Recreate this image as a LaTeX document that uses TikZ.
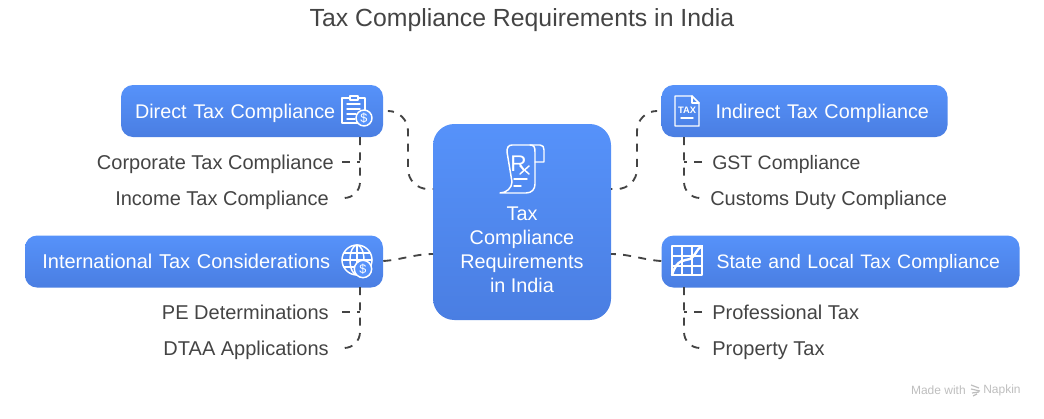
\documentclass[tikz,border=0pt]{standalone}
\usepackage{fontspec}
\setmainfont{Liberation Sans}
\usetikzlibrary{positioning}
\definecolor{boxtop}{RGB}{86, 146, 250}
\definecolor{boxbottom}{RGB}{74, 126, 226}
\definecolor{inktext}{RGB}{68, 68, 68}
\definecolor{linkgrey}{RGB}{68, 68, 68}
\definecolor{footgrey}{RGB}{190, 190, 190}

\begin{document}
\begin{tikzpicture}[x=0.75pt, y=-0.75pt,
    block/.style={rectangle, rounded corners=9pt, top color=boxtop, bottom color=boxbottom, draw=none, minimum height=39pt, inner xsep=0pt, inner ysep=0pt, text height=11.5pt, text depth=1pt, align=left, text=white, font=\fontsize{14.85}{18}\selectfont},
    hub/.style={rectangle, rounded corners=16pt, top color=boxtop, bottom color=boxbottom, draw=none, minimum width=133.5pt, minimum height=147pt, inner sep=0pt},
    hubtext/.style={align=center, text=white, font=\fontsize{14.85}{18}\selectfont, inner sep=0pt},
    leafleft/.style={anchor=east, inner xsep=9.75pt, text height=11.5pt, text depth=1pt, text=inktext, font=\fontsize{15}{18}\selectfont},
    leafright/.style={anchor=west, inner xsep=7.5pt, text height=11.5pt, text depth=1pt, text=inktext, font=\fontsize{15}{18}\selectfont},
    link/.style={draw=linkgrey, line width=1.4pt, dash pattern=on 6pt off 5.5pt},
    trunk/.style={link, rounded corners=12pt},
    icon/.style={draw=white, line width=1.1pt, line join=round, line cap=round},
    coin/.style={draw=white, fill=boxtop, line width=1.1pt}
]

\useasboundingbox (0,0) rectangle (1044,418);

\node (title) [text=inktext, font=\fontsize{18.6}{22}\selectfont] at (522,20) {Tax Compliance Requirements in India};

\node (hub) [hub] at (522,222) {};
\node (direct) [block, text width=196.5pt] at (252,111) {\hspace*{10.5pt}Direct Tax Compliance};
\node (indirect) [block, text width=214.5pt, right=208.5pt of direct] {\hspace*{40.5pt}Indirect Tax Compliance};
\node (intl) [block, text width=268.5pt, font=\fontsize{15}{18}\selectfont, below=73.5pt of direct.south east, anchor=north east] {\hspace*{13pt}International Tax Considerations};
\node (state) [block, text width=268.5pt, font=\fontsize{14.6}{18}\selectfont, below=73.5pt of indirect.south west, anchor=north west] {\hspace*{41.25pt}State and Local Tax Compliance};

\node (corp) [leafleft, inner xsep=6pt] at (342,162) {Corporate Tax Compliance};
\node (income) [leafleft] at (342,198) {Income Tax Compliance};
\node (pe) [leafleft] at (342,312) {PE Determinations};
\node (dtaa) [leafleft] at (342,348) {DTAA Applications};
\node (gst) [leafright, font=\fontsize{14.6}{18}\selectfont] at (702,162) {GST Compliance};
\node (customs) [leafright, inner xsep=6pt] at (702,198) {Customs Duty Compliance};
\node (prof) [leafright] at (702,312) {Professional Tax};
\node (prop) [leafright] at (702,348) {Property Tax};

\coordinate (dtrunk) at (360,137);
\coordinate (itrunk) at (684,137);
\coordinate (ntrunk) at (360,287);
\coordinate (strunk) at (684,287);
\coordinate (hubnw) at (433,189);
\coordinate (hubne) at (611,189);
\coordinate (hubsw) at (433,254);
\coordinate (hubse) at (611,254);
\coordinate (directgap) at (390,111);
\coordinate (indirectgap) at (655,111);

\draw [trunk] (dtrunk) |- (income.east);
\draw [link] (corp.east) -- (corp.east -| dtrunk);
\draw [trunk] (itrunk) |- (customs.west);
\draw [link] (gst.west) -- (gst.west -| itrunk);
\draw [trunk] (ntrunk) |- (dtaa.east);
\draw [link] (pe.east) -- (pe.east -| ntrunk);
\draw [trunk] (strunk) |- (prop.west);
\draw [link] (prof.west) -- (prof.west -| strunk);

\draw [link, rounded corners=15pt] (directgap) -- (408,111) -- (408,189) -- (hubnw);
\draw [link, rounded corners=15pt] (indirectgap) -- (637,111) -- (637,189) -- (hubne);
\draw [link] (intl.east |- 0,261) .. controls (400,260) and (415,254) .. (hubsw);
\draw [link] (state.west |- 0,261) .. controls (644,260) and (629,254) .. (hubse);

\node (hublabel) [hubtext] at (522,250) {Tax\\Compliance\\Requirements\\in India};

% clipboard
\begin{scope}[shift={(354,110)}, icon]
\draw (-4,-12) -- (-12,-12) -- (-12,13) -- (8,13) -- (11,13) -- (11,-12) -- (4,-12);
\draw (-4,-10) -- (-4,-14) -- (4,-14) -- (4,-10) -- cycle;
\draw (-7,-6) -- (6,-6) (-7,-1) -- (6,-1) (-7,4) -- (2,4) (-7,9) -- (1,9);
\node (dollarone) [coin, circle, minimum size=12pt, inner sep=0pt, text=white, font=\fontsize{9.5}{9.5}\selectfont] at (10,8) {\$};
\end{scope}

% prescription
\begin{scope}[icon]
\draw (500,193) -- (526,193) .. controls (532,193) and (535,189) .. (535,184) -- (535,152) .. controls (535,147) and (534,145) .. (530,145) -- (512,145) .. controls (508,145) and (507,148) .. (507,152) -- (512,182) .. controls (512,188) and (506,193) .. (500,193);
\draw (530,145) -- (540,145) .. controls (543,145) and (544,147) .. (544,150) -- (544,162) -- (535,162);
\node (rxr) [text=white, inner sep=0pt, font=\fontsize{17}{17}\selectfont] at (518.5,164) {R};
\draw (520,166) -- (529,174) (529,166) -- (520,174);
\draw (514,179) -- (527,179) (514,186) -- (521,186);
\end{scope}

% tax sheet
\begin{scope}[icon]
\draw (692,96) -- (675,96) -- (675,126) -- (699,126) -- (699,103) -- cycle;
\draw (692,96) -- (692,103) -- (699,103);
\node (taxword) [text=white, inner sep=0pt, font=\fontsize{7}{7}\bfseries\selectfont] at (687,110) {TAX};
\draw (681,118) -- (693,118);
\end{scope}

% globe
\begin{scope}[shift={(357,260)}, icon]
\draw (0,0) circle [radius=15];
\draw (0,0) ellipse [x radius=7, y radius=15];
\draw (0,-15) -- (0,15) (-15,0) -- (15,0) (-13,-7) -- (13,-7) (-13,7) -- (13,7);
\node (dollartwo) [coin, circle, minimum size=13pt, inner sep=0pt, text=white, font=\fontsize{9.5}{9.5}\selectfont] at (6,9) {\$};
\end{scope}

% chart
\begin{scope}[shift={(687,261)}, icon]
\draw (-15,-15) rectangle (15,14);
\draw (-5,-15) -- (-5,14) (5,-15) -- (5,14) (-15,-5) -- (15,-5) (-15,5) -- (15,5);
\draw [line width=1.8pt] (-15,14) .. controls (-10,-3) and (-2,0) .. (3,-2) .. controls (9,-5) and (9,-12) .. (15,-15);
\end{scope}

\node (madewith) [text=footgrey, anchor=east, inner sep=0pt, font=\fontsize{9}{11}\selectfont] at (966,390) {Made with};
\node (napkin) [text=footgrey, anchor=west, inner sep=0pt, font=\fontsize{9}{11}\selectfont] at (983,390) {Napkin};
\draw [footgrey, line width=0.9pt] (971,385) -- (979,388) (971,389) -- (980,391) (972,393) -- (979,392) (973,396) -- (977,394);

\end{tikzpicture}
\end{document}
